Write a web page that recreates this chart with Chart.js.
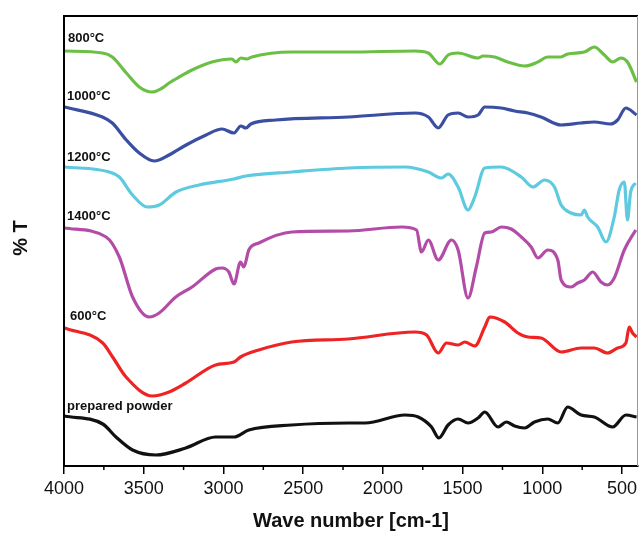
<!DOCTYPE html>
<html>
<head>
<meta charset="utf-8">
<script src="https://cdn.jsdelivr.net/npm/chart.js@4/dist/chart.umd.min.js"></script>
<style>
  html, body { margin: 0; padding: 0; background: #fff; }
  #wrap { width: 639px; height: 534px; }
</style>
</head>
<body>
<div id="wrap"><canvas id="ftir"></canvas></div>
<script>
// FTIR spectra, offset vertically (values in arbitrary %T units)
const tickValues = [500, 1000, 1500, 2000, 2500, 3000, 3500, 4000];
const minorTicks = [750, 1250, 1750, 2250, 2750, 3250, 3750];

const wn800 = [3997, 3759, 3697, 3609, 3528, 3447, 3384, 3341, 3278, 3197, 3072, 2947, 2922, 2891, 2853, 2822, 2572, 2216, 1799, 1715, 1643, 1591, 1528, 1403, 1372, 1299, 1216, 1111, 1028, 966, 884, 841, 736, 674, 611, 559, 507, 466, 409];
const t800  = [415, 413, 409, 393, 379, 374, 378, 383, 389, 396, 404, 407, 404, 408, 407, 409, 414, 414, 415, 413, 402, 411, 413, 408, 410, 409, 404, 400, 404, 409, 409, 412, 414, 419, 411, 404, 408, 404, 384];

const wn1000 = [3997, 3759, 3697, 3609, 3528, 3434, 3341, 3234, 3109, 3009, 2934, 2891, 2859, 2828, 2672, 2216, 1799, 1715, 1653, 1591, 1528, 1466, 1403, 1361, 1259, 1174, 1091, 1008, 882, 759, 674, 572, 528, 476, 409];
const t1000  = [359, 349, 343, 326, 313, 305, 311, 321, 331, 337, 333, 340, 338, 342, 346, 349, 353, 349, 338, 351, 353, 349, 351, 359, 358, 355, 353, 349, 341, 343, 344, 342, 346, 358, 351];

const wn1200 = [3997, 3716, 3653, 3570, 3478, 3403, 3297, 3153, 2934, 2859, 2572, 2216, 1861, 1715, 1633, 1591, 1528, 1466, 1424, 1361, 1259, 1132, 1059, 986, 924, 882, 820, 757, 736, 716, 653, 601, 549, 518, 486, 466, 447, 416];
const t1200  = [299, 294, 289, 271, 259, 261, 274, 281, 287, 290, 294, 298, 299, 294, 288, 292, 279, 256, 269, 298, 299, 289, 279, 286, 279, 261, 253, 251, 256, 249, 239, 224, 249, 276, 284, 246, 273, 283];

const wn1400 = [3997, 3736, 3653, 3570, 3466, 3403, 3299, 3197, 3049, 3009, 2966, 2934, 2893, 2872, 2841, 2778, 2572, 2216, 1883, 1789, 1758, 1715, 1653, 1570, 1528, 1466, 1414, 1361, 1320, 1257, 1195, 1132, 1070, 1028, 966, 903, 882, 820, 778, 736, 684, 632, 591, 549, 486, 414];
const t1400  = [238, 229, 209, 169, 149, 153, 169, 179, 197, 198, 194, 182, 204, 199, 216, 223, 234, 235, 239, 236, 214, 226, 206, 226, 216, 168, 199, 233, 234, 239, 237, 229, 219, 208, 216, 206, 186, 179, 183, 186, 194, 184, 181, 188, 216, 236];

const wn600 = [3997, 3757, 3695, 3611, 3445, 3341, 3236, 3049, 2934, 2893, 2778, 2572, 2216, 1799, 1726, 1653, 1601, 1528, 1486, 1424, 1361, 1330, 1236, 1153, 1091, 1008, 882, 757, 674, 591, 528, 476, 455, 434, 409];
const t600  = [138, 123, 109, 89, 70, 74, 83, 101, 104, 109, 116, 124, 127, 134, 131, 113, 123, 121, 124, 120, 139, 149, 144, 133, 129, 128, 114, 118, 118, 113, 118, 123, 139, 133, 129];

const wnPowder = [3997, 3757, 3674, 3570, 3424, 3236, 3049, 2934, 2841, 2572, 2216, 2111, 1861, 1778, 1695, 1649, 1591, 1528, 1466, 1403, 1361, 1278, 1226, 1174, 1111, 1049, 966, 903, 841, 757, 674, 559, 476, 409];
const tPowder  = [50, 42, 29, 16, 11, 18, 29, 29, 36, 41, 43, 43, 51, 49, 39, 28, 41, 47, 43, 48, 54, 39, 44, 40, 38, 44, 47, 43, 59, 51, 49, 39, 51, 49];

const seriesNames = ['800°C', '1000°C', '1200°C', '1400°C', '600°C', 'prepared powder'];
const seriesColors = ['#6cbf45', '#3a4ea2', '#5ecadf', '#b24ca7', '#ee2323', '#111111'];
const seriesX = [wn800, wn1000, wn1200, wn1400, wn600, wnPowder];
const seriesY = [t800, t1000, t1200, t1400, t600, tPowder];

// label anchors: [wavenumber, value] of each curve name
const labelAnchors = [[3975, 428], [3981, 370], [3981, 309], [3981, 250], [3962, 150], [3981, 60]];

function pairs(xs, ys) {
    return xs.map((x, i) => ({ x, y: ys[i] }));
}

const datasets = seriesNames.map((name, i) => ({
    label: name,
    data: pairs(seriesX[i], seriesY[i]),
    borderColor: seriesColors[i],
    borderWidth: 3.2,
    pointRadius: 0,
    fill: false,
    cubicInterpolationMode: 'monotone',
}));

const decorations = {
    id: 'decorations',
    afterDraw(chart) {
        const { ctx, chartArea: a, scales } = chart;
        const xs = scales.x, ys = scales.y;
        ctx.save();
        // frame
        ctx.strokeStyle = '#000';
        ctx.lineWidth = 2;
        ctx.beginPath();
        ctx.moveTo(a.left, a.bottom);
        ctx.lineTo(a.left, a.top);
        ctx.lineTo(a.right, a.top);
        ctx.stroke();
        ctx.strokeStyle = '#999';
        ctx.lineWidth = 1;
        ctx.beginPath();
        ctx.moveTo(a.right - 0.5, a.top);
        ctx.lineTo(a.right - 0.5, a.bottom);
        ctx.stroke();
        // minor ticks
        ctx.strokeStyle = '#000';
        ctx.lineWidth = 1.5;
        minorTicks.forEach(v => {
            const px = xs.getPixelForValue(v);
            ctx.beginPath();
            ctx.moveTo(px, a.bottom);
            ctx.lineTo(px, a.bottom + 4);
            ctx.stroke();
        });
        // curve names
        ctx.fillStyle = '#111';
        ctx.font = 'bold 13px "Liberation Sans", Arial, sans-serif';
        ctx.textBaseline = 'middle';
        ctx.textAlign = 'left';
        labelAnchors.forEach(([wx, wy], i) => {
            ctx.fillText(seriesNames[i], xs.getPixelForValue(wx), ys.getPixelForValue(wy));
        });
        // axis titles
        ctx.textAlign = 'center';
        ctx.font = 'bold 20px "Liberation Sans", Arial, sans-serif';
        ctx.fillText('Wave number [cm-1]', (a.left + a.right) / 2, 521);
        ctx.translate(21, 238);
        ctx.rotate(-Math.PI / 2);
        ctx.fillText('% T', 0, 0);
        ctx.restore();
    },
};

new Chart(document.getElementById('ftir'), {
    type: 'line',
    data: { datasets },
    options: {
        responsive: true,
        maintainAspectRatio: false,
        animation: false,
        layout: { padding: { left: 64, top: 16, right: 1, bottom: 0 } },
        plugins: {
            legend: { display: false },
            tooltip: { enabled: false },
        },
        scales: {
            x: {
                type: 'linear',
                reverse: true,
                min: 400,
                max: 4000,
                afterBuildTicks(scale) {
                    scale.ticks = tickValues.map(value => ({ value }));
                },
                afterFit(scale) {
                    scale.height = 68;
                },
                border: { display: true, color: '#000', width: 2 },
                grid: {
                    drawOnChartArea: false,
                    drawTicks: true,
                    tickLength: 8,
                    color: '#000',
                    lineWidth: 1.5,
                },
                ticks: {
                    color: '#111',
                    padding: 4,
                    maxRotation: 0,
                    autoSkip: false,
                    callback: value => String(value),
                    font: { family: '"Liberation Sans", Arial, sans-serif', size: 18 },
                },
            },
            y: {
                display: false,
                min: 0,
                max: 450,
            },
        },
    },
    plugins: [decorations],
});
</script>
</body>
</html>
